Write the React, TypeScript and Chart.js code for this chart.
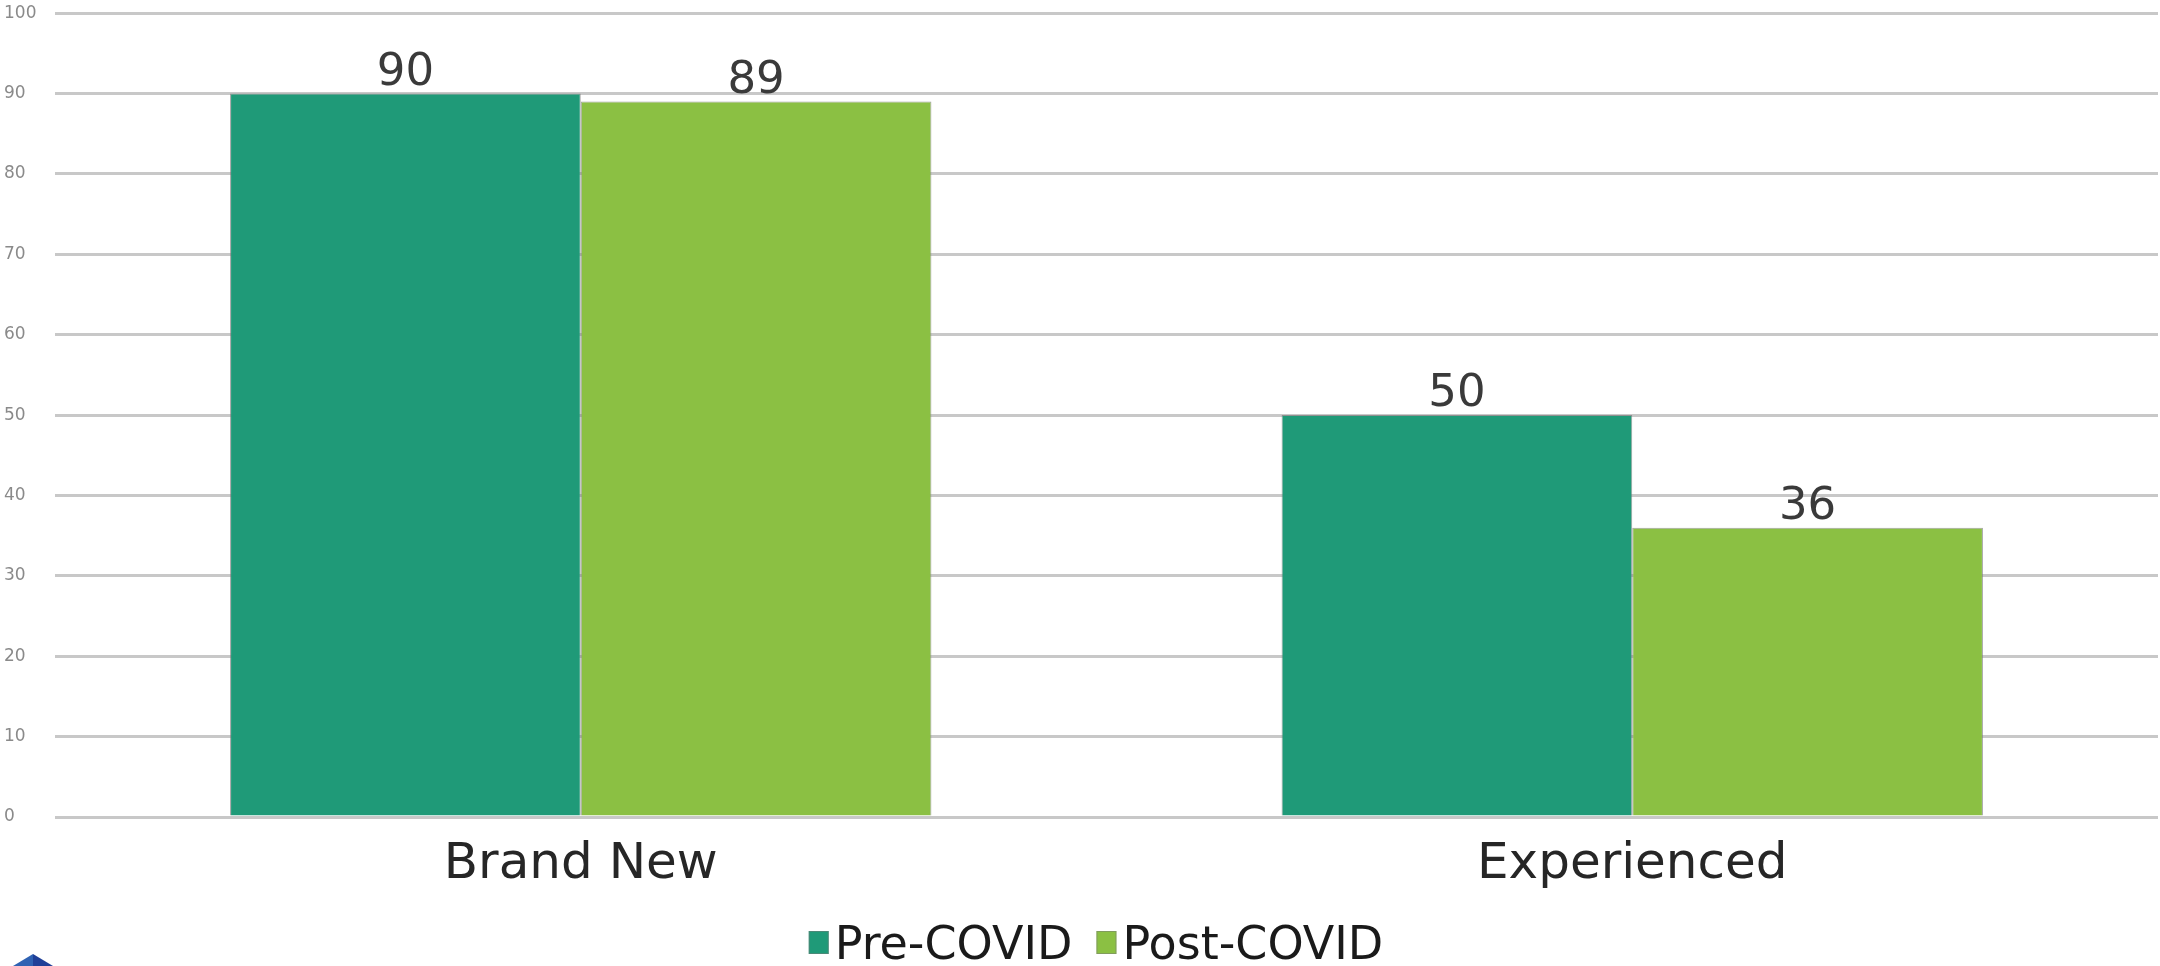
import React, { useEffect, useRef } from "react";
import { Chart, registerables } from "chart.js";

Chart.register(...registerables);

const categories = ["Brand New", "Experienced"];
const seriesNames = ["Pre-COVID", "Post-COVID"];
const preCovid = [90, 50];
const postCovid = [89, 36];
const seriesColors = ["#1f9a78", "#8bc043"];
const yMin = 0;
const yMax = 100;
const yStep = 10;

const W = 2160;
const H = 966;

const dataLabelPlugin = {
  id: "dataLabels",
  afterDatasetsDraw(chart: any) {
    const ctx = chart.ctx;
    chart.data.datasets.forEach((ds: any, i: number) => {
      const meta = chart.getDatasetMeta(i);
      meta.data.forEach((bar: any, j: number) => {
        const v = ds.data[j];
        if (v === null || v === undefined) return;
        ctx.save();
        ctx.font = '45px "DejaVu Sans"';
        ctx.fillStyle = "#3a3a3a";
        ctx.textAlign = "center";
        ctx.textBaseline = "alphabetic";
        ctx.fillText(String(v), bar.x, bar.y - 9);
        ctx.restore();
      });
    });
  },
};

// Legend drawn under the axis, entries taken from the chart's datasets.
const legendPlugin = {
  id: "compactLegend",
  afterDraw(chart: any) {
    const ctx = chart.ctx;
    const font = '46px "DejaVu Sans"';
    const boxW = 20;
    const boxH = 23;
    const boxGap = 6;
    const itemGap = 24;
    const baseline = 959;
    ctx.save();
    ctx.font = font;
    const items = chart.data.datasets.map((ds: any) => ({
      text: ds.label,
      color: ds.backgroundColor,
      w: ctx.measureText(ds.label).width,
    }));
    const total =
      items.reduce((s: number, it: any) => s + boxW + boxGap + it.w, 0) +
      itemGap * (items.length - 1);
    let x = 1096 - total / 2;
    items.forEach((it: any) => {
      ctx.fillStyle = it.color;
      ctx.fillRect(x, baseline - 28, boxW, boxH);
      ctx.strokeStyle = "rgba(120,120,120,0.5)";
      ctx.lineWidth = 1;
      ctx.strokeRect(x + 0.5, baseline - 27.5, boxW - 1, boxH - 1);
      x += boxW + boxGap;
      ctx.fillStyle = "#1a1a1a";
      ctx.textAlign = "left";
      ctx.textBaseline = "alphabetic";
      ctx.fillText(it.text, x, baseline);
      x += it.w + itemGap;
    });
    ctx.restore();
  },
};

const logoPlugin = {
  id: "logoMark",
  afterDraw(chart: any) {
    const ctx = chart.ctx;
    ctx.save();
    ctx.fillStyle = "#2f62b3";
    ctx.beginPath();
    ctx.moveTo(13, 966);
    ctx.lineTo(33, 954);
    ctx.lineTo(33, 966);
    ctx.closePath();
    ctx.fill();
    ctx.fillStyle = "#1f3f98";
    ctx.beginPath();
    ctx.moveTo(33, 954);
    ctx.lineTo(53, 966);
    ctx.lineTo(33, 966);
    ctx.closePath();
    ctx.fill();
    ctx.restore();
  },
};

export default function App() {
  const ref = useRef<HTMLCanvasElement | null>(null);

  useEffect(() => {
    document.body.style.margin = "0";
    const canvas = ref.current;
    if (!canvas) return;
    const chart = new Chart(canvas, {
      type: "bar",
      data: {
        labels: categories,
        datasets: [
          {
            label: seriesNames[0],
            data: preCovid,
            backgroundColor: seriesColors[0],
            borderColor: "rgba(120,120,120,0.7)",
            borderWidth: 1,
            categoryPercentage: 0.667,
            barPercentage: 1,
          },
          {
            label: seriesNames[1],
            data: postCovid,
            backgroundColor: seriesColors[1],
            borderColor: "rgba(120,120,120,0.7)",
            borderWidth: 1,
            categoryPercentage: 0.667,
            barPercentage: 1,
          },
        ],
      },
      options: {
        responsive: false,
        animation: false,
        layout: { padding: { top: 11, left: 4, right: 2, bottom: 53 } },
        plugins: {
          tooltip: { enabled: false },
          legend: { display: false },
        },
        scales: {
          x: {
            grid: { display: false, drawTicks: false },
            border: { display: false },
            ticks: {
              font: { family: "DejaVu Sans", size: 50 },
              color: "#262626",
              padding: 18,
            },
          },
          y: {
            min: yMin,
            max: yMax,
            ticks: {
              stepSize: yStep,
              font: { family: "DejaVu Sans", size: 17 },
              color: "#8a8a8a",
              crossAlign: "far",
            },
            grid: { color: "#c8c8c8", lineWidth: 3, drawTicks: false },
            border: { display: false },
            afterFit: (scale: any) => {
              scale.width = 51;
            },
          },
        },
      },
      plugins: [dataLabelPlugin, legendPlugin, logoPlugin],
    });
    return () => chart.destroy();
  }, []);

  return (
    <div style={{ width: W, height: H, background: "#ffffff" }}>
      <canvas ref={ref} width={W} height={H} style={{ display: "block" }} />
    </div>
  );
}
